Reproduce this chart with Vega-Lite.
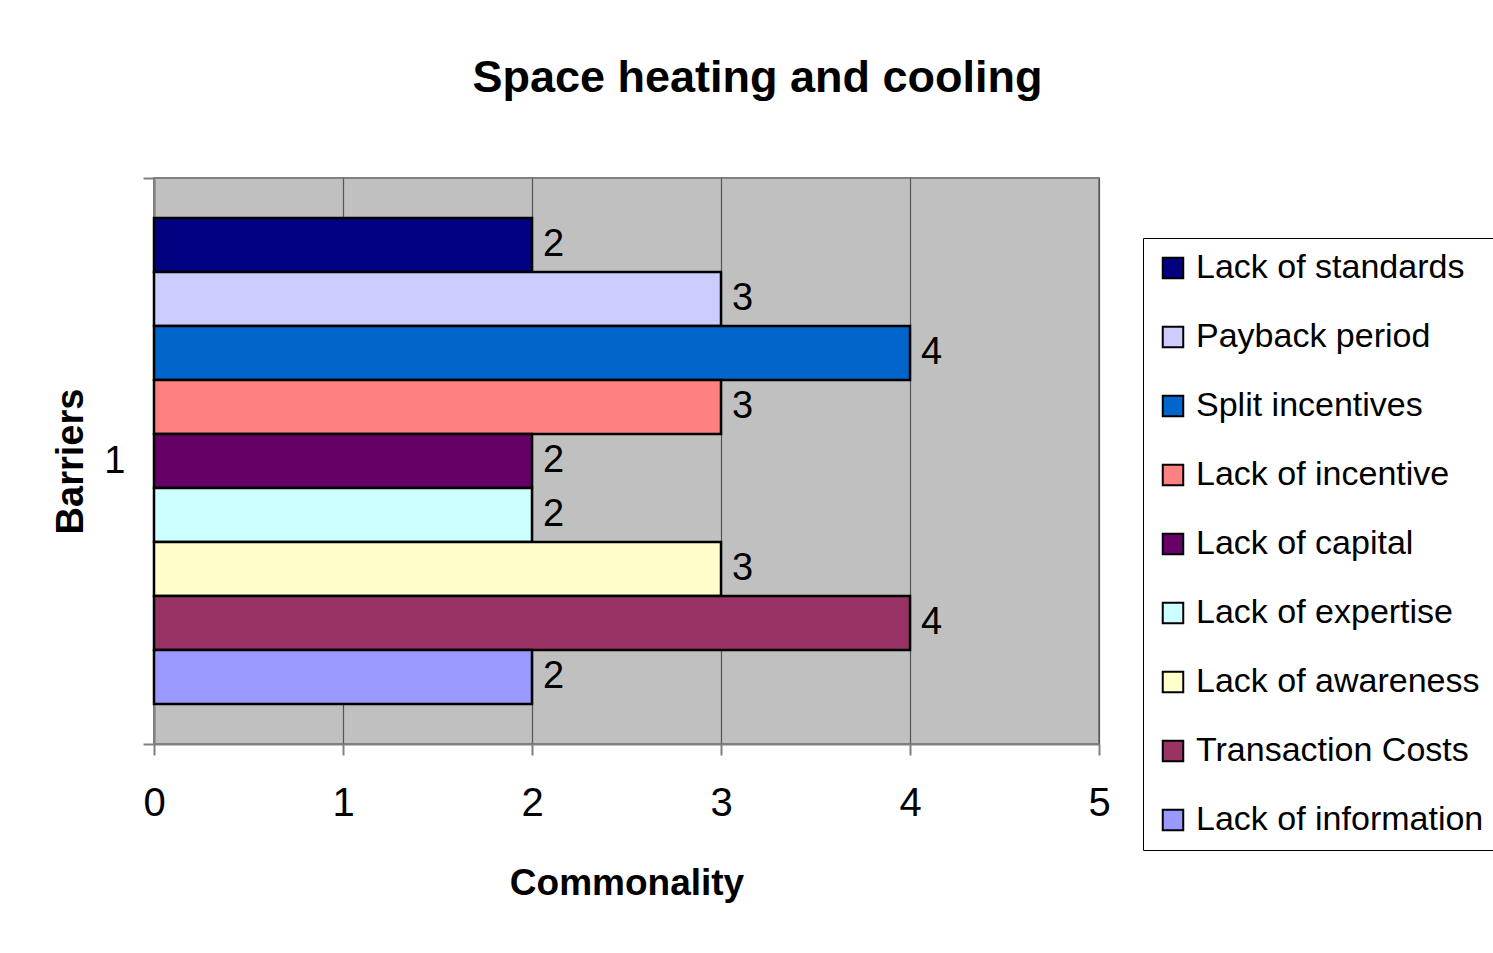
{
  "$schema": "https://vega.github.io/schema/vega-lite/v6.json",
  "width": 945,
  "height": 566,
  "autosize": {"type": "none"},
  "padding": {"left": 154, "top": 178, "right": 394, "bottom": 209},
  "background": "white",
  "title": {
    "text": "Space heating and cooling",
    "font": "Liberation Sans, Arial",
    "fontSize": 45,
    "fontWeight": "bold",
    "color": "black",
    "anchor": "middle",
    "dx": 131,
    "offset": 58
  },
  "data": {
    "values": [
      {"group": "1", "barrier": "Lack of standards", "commonality": 2, "order": 1},
      {"group": "1", "barrier": "Payback period", "commonality": 3, "order": 2},
      {"group": "1", "barrier": "Split incentives", "commonality": 4, "order": 3},
      {"group": "1", "barrier": "Lack of incentive", "commonality": 3, "order": 4},
      {"group": "1", "barrier": "Lack of capital", "commonality": 2, "order": 5},
      {"group": "1", "barrier": "Lack of expertise", "commonality": 2, "order": 6},
      {"group": "1", "barrier": "Lack of awareness", "commonality": 3, "order": 7},
      {"group": "1", "barrier": "Transaction Costs", "commonality": 4, "order": 8},
      {"group": "1", "barrier": "Lack of information", "commonality": 2, "order": 9}
    ]
  },
  "encoding": {
    "y": {
      "field": "group",
      "type": "nominal",
      "scale": {"paddingInner": 0, "paddingOuter": 0},
      "axis": {
        "title": "Barriers",
        "titleFont": "Liberation Sans, Arial",
        "titleFontSize": 38,
        "titleFontWeight": "bold",
        "titleColor": "black",
        "titlePadding": 13,
        "labelFont": "Liberation Sans, Arial",
        "labelFontSize": 38,
        "labelColor": "black",
        "labelPadding": 18,
        "tickBand": "extent",
        "tickSize": 11,
        "tickColor": "#808080",
        "tickWidth": 2,
        "domain": true,
        "domainColor": "#808080",
        "domainWidth": 2,
        "grid": false
      }
    },
    "yOffset": {
      "field": "barrier",
      "type": "nominal",
      "sort": {"field": "order"},
      "scale": {"paddingInner": 0, "paddingOuter": 0.74}
    },
    "x": {
      "field": "commonality",
      "type": "quantitative",
      "scale": {"domain": [0, 5]},
      "axis": {
        "title": "Commonality",
        "titleFont": "Liberation Sans, Arial",
        "titleFontSize": 37,
        "titleFontWeight": "bold",
        "titleColor": "black",
        "titlePadding": 42,
        "values": [0, 1, 2, 3, 4, 5],
        "labelFont": "Liberation Sans, Arial",
        "labelFontSize": 40,
        "labelColor": "black",
        "labelPadding": 28,
        "labelFlush": false,
        "tickSize": 11,
        "tickColor": "#808080",
        "tickWidth": 2,
        "domainColor": "#808080",
        "domainWidth": 2,
        "grid": true,
        "gridColor": "#555555",
        "gridWidth": 1.2
      }
    }
  },
  "layer": [
    {
      "mark": {"type": "bar", "stroke": "black", "strokeWidth": 2.5},
      "encoding": {
        "color": {
          "field": "barrier",
          "type": "nominal",
          "sort": {"field": "order"},
          "scale": {
            "domain": ["Lack of standards", "Payback period", "Split incentives", "Lack of incentive", "Lack of capital", "Lack of expertise", "Lack of awareness", "Transaction Costs", "Lack of information"],
            "range": ["#000080", "#CCCCFF", "#0066CC", "#FF8080", "#660066", "#CCFFFF", "#FFFFCC", "#993366", "#9999FF"]
          },
          "legend": {
            "title": null,
            "orient": "none",
            "legendX": 989,
            "legendY": 60,
            "direction": "vertical",
            "symbolType": "square",
            "symbolSize": 420,
            "symbolStrokeColor": "black",
            "symbolStrokeWidth": 2,
            "labelFont": "Liberation Sans, Arial",
            "labelFontSize": 34,
            "labelColor": "black",
            "labelOffset": 6,
            "labelLimit": 600,
            "rowPadding": 35,
            "padding": 13,
            "strokeColor": "black",
            "fillColor": "white",
            "cornerRadius": 0
          }
        }
      }
    },
    {
      "mark": {
        "type": "text",
        "align": "left",
        "baseline": "middle",
        "dx": 11,
        "font": "Liberation Sans, Arial",
        "fontSize": 38,
        "color": "black"
      },
      "encoding": {
        "text": {"field": "commonality", "type": "quantitative"}
      }
    }
  ],
  "config": {
    "view": {"fill": "#C0C0C0", "stroke": "#808080", "strokeWidth": 2}
  }
}
